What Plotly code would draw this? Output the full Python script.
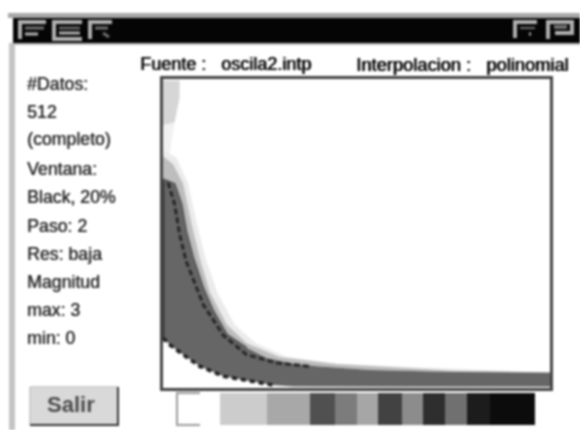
import plotly.graph_objects as go

W, H = 580, 430

# Spectrogram band (x: 0-100 % of time, y: 0-100 % of frequency)
upper_x = [0, 3, 4.8, 6, 7.8, 10.4, 13, 16.5, 21.6, 26.8, 32.9, 39.8, 53.7, 75, 100]
upper_y = [67.6, 66, 59.5, 50.8, 42.2, 32.4, 24.9, 17.3, 13, 9.7, 8.1, 7, 5.8, 5.2, 5]
lower_x = [0, 1.7, 5.2, 9.5, 15.6, 22.5, 28.6, 33.8, 60, 100]
lower_y = [16.2, 14, 10.8, 7, 3.8, 2.2, 0.9, 0.5, 0.4, 0.4]
halo_x = [0, 2.6, 5.2, 7.4, 9.5, 12.1, 16.5, 21.6, 30, 45, 75, 100]
halo_y = [75, 72.4, 66, 53, 42, 31, 20.5, 14.5, 10, 7.8, 5.6, 5]
faint_x = [0, 3.5, 6.5, 8.8, 11, 14, 18.5, 24, 32, 45]
faint_y = [77, 74.5, 66, 53, 42, 31, 20.5, 14.5, 10, 7.8]
smear_x = [0, 4.3, 4.3, 3, 0]
smear_y = [99.5, 99.5, 94, 86, 85]
wisp_x = [0, 3, 2, 1, 0]
wisp_y = [85, 86, 78, 72, 70]
ridge_x = [1.3, 3, 4.3, 6, 10.4, 15.6, 21.6, 29.4, 38]
ridge_y = [66.5, 59.5, 49.7, 41, 27, 17, 10.8, 8.1, 7]

# Colour scale swatches
levels = list(range(12))
level_widths = [43, 47, 43, 25, 22, 21, 24, 21, 22, 22, 23, 45]
level_colors = ["#ffffff", "#cccccc", "#a8a8a8", "#505050", "#7c7c7c", "#a6a6a6",
                "#424242", "#8c8c8c", "#2e2e2e", "#707070", "#1c1c1c", "#0c0c0c"]

# Text
side_labels = ["#Datos:", "512", "(completo)", "Ventana:", "Black, 20%", "Paso: 2",
               "Res: baja", "Magnitud", "max: 3", "min: 0"]
side_rows = [84, 112, 139, 169, 197, 226, 254, 282, 310, 338]
source_text = "Fuente : \u00a0\u00a0oscila2.intp"
interp_text = "Interpolacion : \u00a0\u00a0polinomial"
button_text = "Salir"


def px(x):
    return x / W


def py(y):
    return 1 - y / H


fig = go.Figure()
closed = lambda xa, ya, xb, yb: (xa + xb[::-1], ya + yb[::-1])

fig.add_trace(go.Scatter(x=wisp_x, y=wisp_y, fill="toself", mode="none", fillcolor="#f1f1f1"))
fig.add_trace(go.Scatter(x=smear_x, y=smear_y, fill="toself", mode="none", fillcolor="#d6d6d6"))
fx, fy = closed(faint_x, faint_y, upper_x, upper_y)
fig.add_trace(go.Scatter(x=fx, y=fy, fill="toself", mode="none", fillcolor="#ebebeb"))
hx, hy = closed(halo_x, halo_y, upper_x, upper_y)
fig.add_trace(go.Scatter(x=hx, y=hy, fill="toself", mode="none", fillcolor="#bdbdbd"))
bx, by = closed(upper_x, upper_y, lower_x, lower_y)
fig.add_trace(go.Scatter(x=bx, y=by, fill="toself", mode="none", fillcolor="#666666"))
fig.add_trace(go.Scatter(x=upper_x[:9], y=upper_y[:9], mode="lines",
                         line=dict(color="#5a5a5a", width=2)))
fig.add_trace(go.Scatter(x=ridge_x, y=ridge_y, mode="lines",
                         line=dict(color="#262626", width=3, dash="6px,3px")))
fig.add_trace(go.Scatter(x=lower_x[:7], y=lower_y[:7], mode="lines",
                         line=dict(color="#1c1c1c", width=3.5, dash="5px,4px")))
fig.add_trace(go.Scatter(x=[0, 0], y=[16, 67], mode="lines",
                         line=dict(color="#3a3a3a", width=3)))

# Swatches as a heatmap with explicit cell edges
edges = [177]
for w in level_widths:
    edges.append(edges[-1] + w)
n = len(levels)
scale = []
for i, c in enumerate(level_colors):
    scale += [[i / n, c], [(i + 1) / n, c]]
fig.add_trace(go.Heatmap(x=edges, y=[0, 1], z=[levels], zmin=0, zmax=n, colorscale=scale,
                         showscale=False, xaxis="x2", yaxis="y2", hoverinfo="skip"))

shapes = []


def rect(x0, y0, x1, y1, fill=None, line=None, w=1):
    shapes.append(dict(type="rect", xref="paper", yref="paper", x0=px(x0), x1=px(x1),
                       y0=py(y0), y1=py(y1), fillcolor=fill or "rgba(0,0,0,0)",
                       line=dict(color=line or "rgba(0,0,0,0)", width=w if line else 0)))


def path(points, color, w):
    d = "M " + " L ".join(f"{px(a):.5f},{py(b):.5f}" for a, b in points)
    shapes.append(dict(type="path", xref="paper", yref="paper", path=d,
                       line=dict(color=color, width=w)))


# window chrome
rect(8, 13, 580, 18, fill="#a8a8a8")
rect(13, 18, 580, 43, fill="#050505")
rect(9, 43, 15, 430, fill="#c4c4c4")
rect(13, 43, 580, 45, fill="#bcbcbc")
# title bar icons
grey = "#b0b0b0"
dim = "#707070"
path([(46, 22), (20, 22), (20, 39)], grey, 4)
path([(25, 28), (44, 28)], dim, 3)
path([(25, 34), (38, 34)], grey, 3)
path([(82, 22), (54, 22), (54, 39), (82, 39)], grey, 4)
path([(59, 28), (80, 28)], dim, 2.5)
path([(59, 33), (80, 33)], grey, 3)
path([(112, 22), (90, 22), (90, 39)], grey, 4)
path([(95, 28), (108, 28)], dim, 3)
path([(103, 33), (109, 37)], dim, 3)
path([(537, 22), (515, 22), (515, 38)], grey, 4)
path([(520, 28), (535, 28)], dim, 2)
path([(529, 34), (531, 34)], grey, 3)
path([(548, 39), (548, 22), (572, 22), (572, 33), (555, 33)], grey, 4)
path([(554, 27), (567, 27)], dim, 4)
# button
rect(30, 387, 118, 425, fill="#d9d9d9")
path([(30, 387), (118, 387)], "#c4c4c4", 1.5)
path([(30, 387), (30, 425)], "#c4c4c4", 1.5)
path([(30, 425), (118, 425), (118, 387)], "#333333", 2)
path([(200, 393), (177, 393), (177, 425), (200, 425)], "#9a9a9a", 2)

TXT = "Liberation Sans"
notes = [dict(text=t, x=px(25), y=py(r), xref="paper", yref="paper", xanchor="left",
              yanchor="middle", showarrow=False,
              font=dict(size=17.7, color="#222222", family=TXT, shadow="0.5px 0 0 #444444"))
         for t, r in zip(side_labels, side_rows)]
notes.append(dict(text=source_text, x=px(138), y=py(64), xref="paper", yref="paper",
                  xanchor="left", yanchor="middle", showarrow=False,
                  font=dict(size=18, color="#000000", family=TXT, shadow="0.8px 0 0 #111111")))
notes.append(dict(text=interp_text, x=px(354), y=py(64), xref="paper", yref="paper",
                  xanchor="left", yanchor="middle", showarrow=False,
                  font=dict(size=18.3, color="#000000", family=TXT, shadow="0.8px 0 0 #111111")))
notes.append(dict(text="<b>" + button_text + "</b>", x=px(71), y=py(404), xref="paper",
                  yref="paper", xanchor="center", yanchor="middle", showarrow=False,
                  font=dict(size=22, color="#4a4a4a", family=TXT)))

fig.update_layout(
    width=W, height=H, autosize=False, margin=dict(l=0, r=0, t=0, b=0),
    paper_bgcolor="#ffffff", plot_bgcolor="#ffffff", showlegend=False,
    shapes=shapes, annotations=notes,
    xaxis=dict(domain=[px(163), px(550)], range=[0, 100], showticklabels=False, ticks="",
               showgrid=False, zeroline=False, showline=True, mirror=True,
               linecolor="#444444", linewidth=2.5),
    yaxis=dict(domain=[py(388), py(79)], range=[0, 100], showticklabels=False, ticks="",
               showgrid=False, zeroline=False, showline=True, mirror=True,
               linecolor="#444444", linewidth=2.5),
    xaxis2=dict(domain=[px(177), px(535)], range=[177, 535], visible=False),
    yaxis2=dict(domain=[py(425), py(393)], range=[0, 1], visible=False),
)

fig.write_html("out.html", config=dict(displayModeBar=False),
               post_script="document.body.style.margin='0';document.body.style.overflow='hidden';"
                           "document.body.style.filter='blur(1px)';")
